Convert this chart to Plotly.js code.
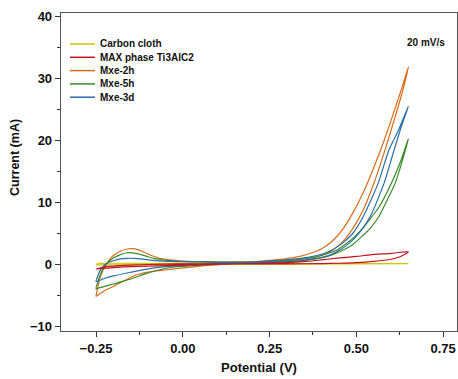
<!DOCTYPE html>
<html>
<head>
<meta charset="utf-8">
<script src="https://cdn.plot.ly/plotly-3.0.1.min.js"></script>
<style>html,body{margin:0;padding:0;background:#fff;}#chart{width:458px;height:379px;}</style>
</head>
<body>
<div id="chart"></div>
<script>
// Series names (legend order) and colours
const seriesNames = ['Carbon cloth', 'MAX phase Ti3AlC2', 'Mxe-2h', 'Mxe-5h', 'Mxe-3d'];
const seriesColors = ['#cfc400', '#c0141e', '#d86d1a', '#3a8a2a', '#2a6fa8'];

// Potential (V) / Current (mA) for each CV loop (forward sweep then reverse sweep)
const vCarbon = [-0.25,-0.24,-0.2,0.0,0.3,0.65, 0.3,0.0,-0.2,-0.25];
const iCarbon = [-0.05,0.12,0.15,0.12,0.1,0.1, 0.0,-0.05,-0.1,-0.1];

const vMax = [-0.25,-0.23,-0.2,-0.15,-0.1,0.0,0.1,0.2,0.3,0.4,0.45,0.5,0.55,0.6,0.626,0.65,
              0.6,0.54,0.5,0.444,0.4,0.347,0.3,0.2,0.1,0.0,-0.1,-0.15,-0.2,-0.25];
const iMax = [-0.8,-0.5,-0.3,-0.15,-0.05,0.05,0.05,0.05,0.05,0.1,0.15,0.25,0.45,0.8,1.2,2.0,
              1.75,1.5,1.25,0.97,0.7,0.4,0.25,0.1,0.0,-0.15,-0.3,-0.4,-0.55,-0.8];

const v2h = [-0.25,-0.245,-0.24,-0.23,-0.22,-0.21,-0.2,-0.18,-0.16,-0.145,-0.13,-0.11,-0.09,-0.07,-0.05,-0.02,0.0,0.05,0.1,0.15,0.2,0.25,0.3,0.35,0.4,0.43,0.46,0.49,0.52,0.55,0.58,0.61,0.63,0.65,
             0.63,0.61,0.58,0.55,0.52,0.49,0.46,0.43,0.4,0.37,0.34,0.3,0.25,0.2,0.15,0.1,0.05,0.0,-0.03,-0.06,-0.09,-0.12,-0.15,-0.18,-0.2,-0.22,-0.24,-0.25];
const i2h = [-5.2,-3.8,-2.5,-1.0,0.0,0.8,1.4,2.1,2.45,2.5,2.35,1.9,1.4,1.0,0.8,0.6,0.5,0.4,0.35,0.35,0.4,0.45,0.6,0.9,1.4,2.2,3.6,5.8,8.8,13.0,18.0,23.5,27.3,31.9,
             28.3,24.9,20.0,15.6,11.6,8.3,5.6,3.7,2.5,1.8,1.3,0.9,0.6,0.4,0.1,-0.1,-0.3,-0.6,-0.8,-1.0,-1.2,-1.5,-2.1,-3.0,-3.6,-4.1,-4.8,-5.2];

const v5h = [-0.25,-0.245,-0.24,-0.23,-0.22,-0.21,-0.2,-0.18,-0.16,-0.14,-0.12,-0.1,-0.08,-0.05,-0.02,0.0,0.05,0.1,0.15,0.2,0.25,0.3,0.35,0.4,0.43,0.462,0.49,0.516,0.54,0.565,0.59,0.612,0.64,0.65,
             0.63,0.61,0.59,0.565,0.545,0.52,0.496,0.47,0.444,0.41,0.38,0.34,0.3,0.25,0.2,0.15,0.1,0.05,0.0,-0.03,-0.05,-0.08,-0.11,-0.14,-0.17,-0.2,-0.22,-0.24,-0.25];
const i5h = [-4.0,-2.9,-2.0,-0.8,0.0,0.6,1.0,1.55,1.85,1.8,1.55,1.2,0.9,0.65,0.5,0.45,0.4,0.35,0.35,0.35,0.35,0.4,0.6,1.0,1.5,2.3,3.2,4.5,5.8,7.7,10.5,13.1,18.2,20.3,
             17.0,14.2,11.8,9.2,7.7,5.9,4.5,3.3,2.3,1.6,1.1,0.8,0.6,0.45,0.3,0.15,0.0,-0.15,-0.35,-0.5,-0.7,-1.1,-1.6,-2.2,-2.75,-3.2,-3.5,-3.8,-4.0];

const v3d = [-0.25,-0.245,-0.24,-0.23,-0.22,-0.2,-0.18,-0.16,-0.14,-0.12,-0.1,-0.07,-0.03,0.0,0.05,0.1,0.15,0.2,0.25,0.3,0.33,0.38,0.42,0.45,0.48,0.51,0.54,0.58,0.609,0.63,0.65,
             0.62,0.594,0.563,0.52,0.49,0.46,0.43,0.4,0.36,0.3,0.25,0.2,0.15,0.1,0.05,0.0,-0.05,-0.1,-0.15,-0.2,-0.23,-0.25];
const i3d = [-2.8,-1.9,-1.2,-0.4,0.1,0.55,0.85,0.95,0.95,0.85,0.7,0.55,0.45,0.4,0.35,0.3,0.3,0.3,0.3,0.35,0.5,0.9,1.4,2.2,3.4,5.2,7.7,13.1,18.5,22.3,25.5,
             21.5,18.5,13.1,7.7,5.0,3.4,2.3,1.6,1.1,0.7,0.5,0.35,0.25,0.1,-0.05,-0.2,-0.4,-0.75,-1.3,-1.9,-2.4,-2.8];

// Axis ticks
const xTickVals = [-0.25, 0, 0.25, 0.5, 0.75];
const xTickText = ['\u22120.25', '0.00', '0.25', '0.50', '0.75'];
const xMinorVals = [-0.125, 0.125, 0.375, 0.625];
const yTickVals = [-10, 0, 10, 20, 30, 40];
const yTickText = ['\u221210', '0', '10', '20', '30', '40'];
const yMinorVals = [-5, 5, 15, 25, 35];

const xs = [vCarbon, vMax, v2h, v5h, v3d];
const ys = [iCarbon, iMax, i2h, i5h, i3d];
const drawOrder = [0, 2, 3, 4, 1];

const traces = drawOrder.map(k => ({
  type: 'scatter', mode: 'lines', x: xs[k], y: ys[k], name: seriesNames[k],
  line: {color: seriesColors[k], width: 1.2, shape: 'spline', smoothing: 0.6},
  showlegend: false, hoverinfo: 'skip'
}));

const FONT = 'Liberation Sans, Arial, sans-serif';
const W = 458, H = 379, ML = 61, MR = 1, MT = 13, MB = 48;
const PW = W - ML - MR, PH = H - MT - MB;
const px2x = p => (p - ML) / PW;
const py2y = p => (H - MB - p) / PH;

const shapes = [], annotations = [];
seriesNames.forEach((n, i) => {
  const py = 44 + 13.3 * i;
  shapes.push({type: 'line', xref: 'paper', yref: 'paper', x0: px2x(70), x1: px2x(95), y0: py2y(py), y1: py2y(py),
               line: {color: seriesColors[i], width: 1.5}});
  annotations.push({xref: 'paper', yref: 'paper', x: px2x(98), y: py2y(py), xanchor: 'left', yanchor: 'middle',
               text: n, showarrow: false, font: {family: FONT, size: 10, weight: 'bold', color: '#111'}});
});
annotations.push({xref: 'paper', yref: 'paper', x: px2x(447), y: py2y(43), xanchor: 'right', yanchor: 'middle',
  text: '20 mV/s', showarrow: false, font: {family: FONT, size: 10, weight: 'bold', color: '#111'}});
// y-axis title
annotations.push({xref: 'paper', yref: 'paper', x: px2x(15), y: py2y(158), xanchor: 'center', yanchor: 'middle',
  textangle: -90, text: 'Current (mA)', showarrow: false, font: {family: FONT, size: 12.5, weight: 'bold', color: '#111'}});

const axisCommon = {
  showline: true, linecolor: '#555', linewidth: 1.3, mirror: true,
  ticks: 'outside', ticklen: 5, tickwidth: 1, tickcolor: '#333',
  showgrid: false, zeroline: false, tickmode: 'array',
  tickfont: {family: FONT, size: 13, weight: 'bold', color: '#111'}
};

const layout = {
  width: W, height: H, margin: {l: ML, r: MR, t: MT, b: MB},
  paper_bgcolor: '#fff', plot_bgcolor: '#fff', showlegend: false,
  font: {family: FONT},
  xaxis: Object.assign({}, axisCommon, {
    range: [-0.351, 0.79], tickvals: xTickVals, ticktext: xTickText,
    minor: {tickmode: 'array', tickvals: xMinorVals, ticks: 'outside', ticklen: 3, tickcolor: '#333'},
    title: {text: 'Potential (V)', font: {family: FONT, size: 13, weight: 'bold', color: '#111'}, standoff: 8}
  }),
  yaxis: Object.assign({}, axisCommon, {
    range: [-10.8, 40.6], tickvals: yTickVals, ticktext: yTickText,
    minor: {tickmode: 'array', tickvals: yMinorVals, ticks: 'outside', ticklen: 3, tickcolor: '#333'}
  }),
  shapes: shapes, annotations: annotations
};

Plotly.newPlot('chart', traces, layout, {displayModeBar: false, staticPlot: true});
</script>
</body>
</html>
